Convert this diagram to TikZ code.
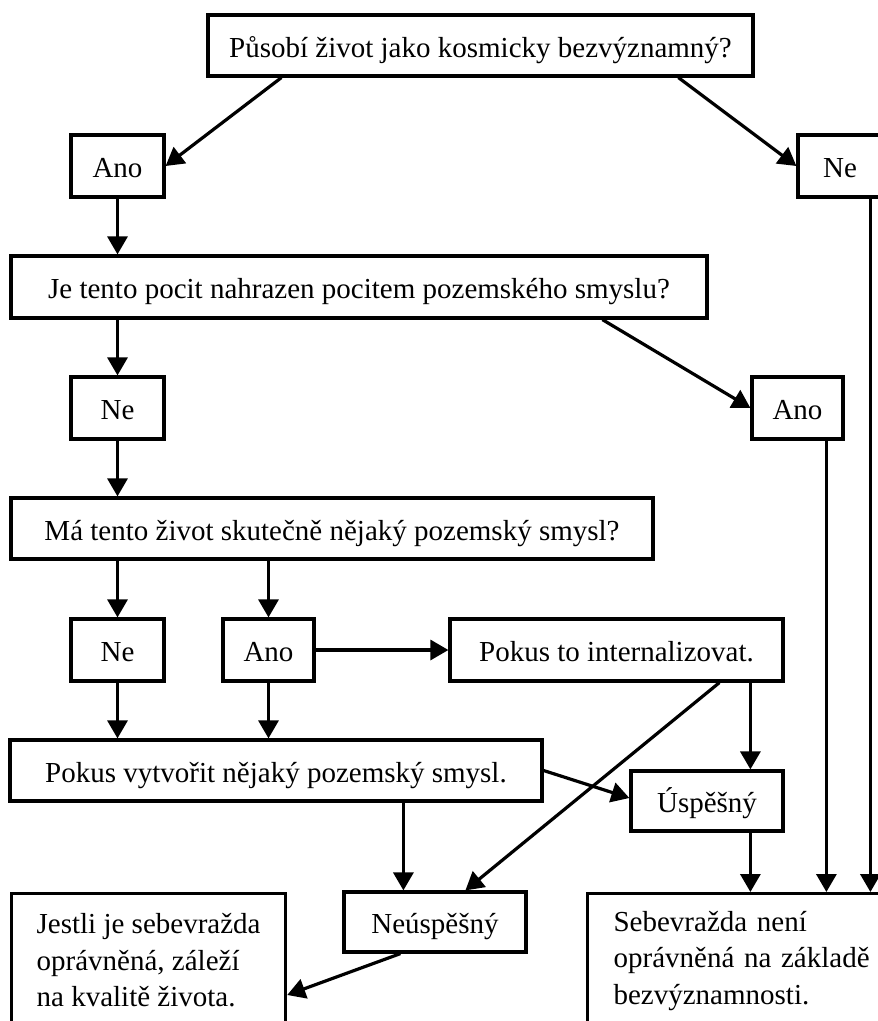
\documentclass[tikz,border=0pt]{standalone}
\usepackage{fontspec}
\setmainfont{Liberation Serif}
\usetikzlibrary{arrows.meta,calc}
\begin{document}
\begin{tikzpicture}[x=1pt,y=-1pt,
  box/.style={draw,line width=3.2pt,inner sep=0pt,anchor=center,font=\fontsize{29}{36.5}\selectfont},
  single/.style={box,text height=23pt,text depth=0pt},
  arr/.style={line width=3.2pt,-{Triangle[length=18pt,width=20pt]}}]
\useasboundingbox (0,0) rectangle (878,1021);
\clip (0,0) rectangle (878,1021);
\fill[white] (0,0) rectangle (878,1021);
\node[single,minimum width=545pt,minimum height=61pt] (top) at (480.5,45.5) {Působí život jako kosmicky bezvýznamný?};
\node[single,minimum width=93pt,minimum height=62pt] (ano1) at (117.5,166) {Ano};
\node[single,minimum width=84pt,minimum height=62pt] (ne1) at (840,166) {Ne};
\node[single,minimum width=696pt,minimum height=62pt] (je) at (359,287) {Je tento pocit nahrazen pocitem pozemského smyslu?};
\node[single,minimum width=93pt,minimum height=62pt] (ne2) at (117.5,408) {Ne};
\node[single,minimum width=91pt,minimum height=62pt] (ano2) at (797.5,408) {Ano};
\node[single,minimum width=642pt,minimum height=61pt] (ma) at (332,528.5) {Má tento život skutečně nějaký pozemský smysl?};
\node[single,minimum width=93pt,minimum height=62pt] (ne3) at (117.5,650) {Ne};
\node[single,minimum width=91pt,minimum height=62pt] (ano3) at (268.5,650) {Ano};
\node[single,minimum width=333pt,minimum height=62pt] (pint) at (616.5,650) {Pokus to internalizovat.};
\node[single,minimum width=532pt,minimum height=61pt] (pvyt) at (276,770.5) {Pokus vytvořit nějaký pozemský smysl.};
\node[single,minimum width=152pt,minimum height=60pt] (usp) at (707,801) {Úspěšný};
\node[single,minimum width=182pt,minimum height=60pt] (neusp) at (435,922) {Neúspěšný};
\node[box,minimum width=274pt,minimum height=134pt,align=left,anchor=north west] (jestli) at (10,892) {Jestli je sebevražda\\oprávněná, záleží\\na kvalitě života.};
\node[box,text width=300pt,inner xsep=26pt,minimum height=134pt,align=left,anchor=north west] (seb) at (586,892) {Sebevražda není\\oprávněná na základě\\bezvýznamnosti.};
% connectors
\draw[arr] ($(top.south west)+(75,0)$) -- (ano1.east);
\draw[arr] ($(top.south west)+(472,0)$) -- (ne1.west);
\draw[arr] (ano1.south) -- (ano1.south |- je.north);
\draw[arr] (ne2.north |- je.south) -- (ne2.north);
\draw[arr] ($(je.south west)+(593,0)$) -- (ano2.west);
\draw[arr] ($(ne1.south west)+(74,0)$) coordinate (a) -- (a |- seb.north);
\draw[arr] ($(ano2.south west)+(76,0)$) coordinate (b) -- (b |- seb.north);
\draw[arr] (ne2.south) -- (ne2.south |- ma.north);
\draw[arr] (ne3.north |- ma.south) -- (ne3.north);
\draw[arr] (ano3.north |- ma.south) -- (ano3.north);
\draw[arr] (ano3.east) -- (pint.west);
\draw[arr] ($(pint.south west)+(302,0)$) coordinate (c) -- (c |- usp.north);
\draw[arr] (c |- usp.south) -- (c |- seb.north);
\draw[arr] ($(pint.south west)+(271,0)$) -- ($(neusp.north west)+(123,0)$);
\draw[arr] (ne3.south) -- (ne3.south |- pvyt.north);
\draw[arr] (ano3.south) -- (ano3.south |- pvyt.north);
\draw[arr] (pvyt.east) -- ($(usp.west)+(0,-3)$);
\draw[arr] ($(pvyt.south west)+(395,0)$) coordinate (d) -- (d |- neusp.north);
\draw[arr] ($(neusp.south west)+(58,0)$) -- ($(jestli.north east)+(0,103)$);
\end{tikzpicture}
\end{document}
